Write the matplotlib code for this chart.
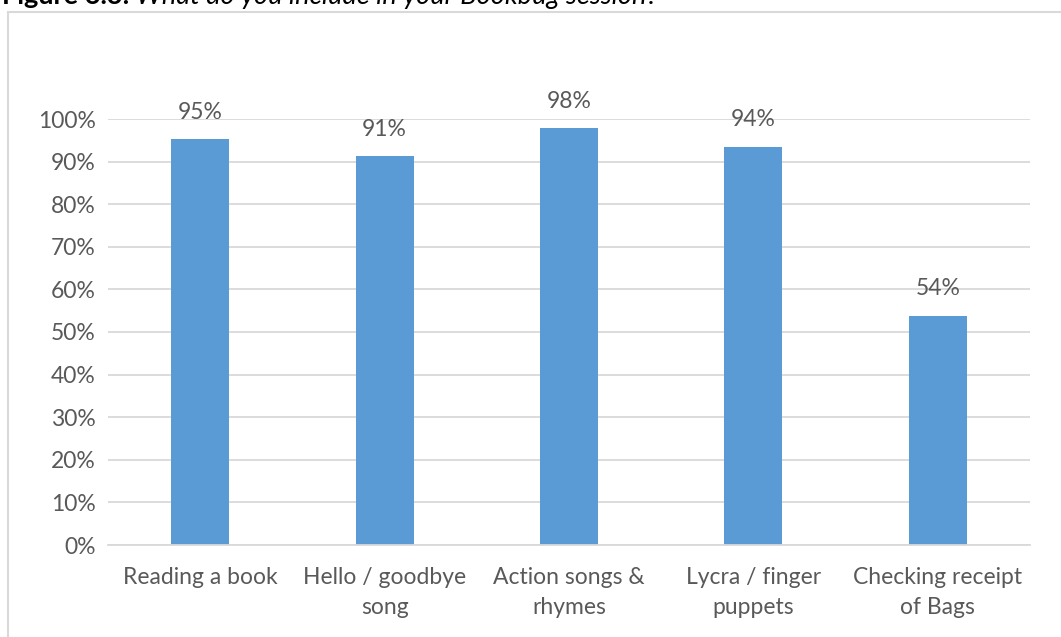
import matplotlib.pyplot as plt
from matplotlib.patches import Rectangle
from matplotlib.transforms import offset_copy

# data
categories = ['Reading a book', 'Hello / goodbye\nsong', 'Action songs &\nrhymes',
              'Lycra / finger\npuppets', 'Checking receipt\nof Bags']
values = [0.952, 0.912, 0.978, 0.934, 0.538]
labels = ['95%', '91%', '98%', '94%', '54%']
yticks = [0, 0.1, 0.2, 0.3, 0.4, 0.5, 0.6, 0.7, 0.8, 0.9, 1.0]

plt.rcParams['font.family'] = ['Lato', 'DejaVu Sans']
txt = '#595959'
fs = 16.5

fig = plt.figure(figsize=(10.61, 6.37), dpi=100)

# chart frame (runs off the right and bottom edges)
fig.patches.append(Rectangle((8/1061, -0.05), 1.1, 1 - 12/637 + 0.05,
                             transform=fig.transFigure, fill=False,
                             edgecolor='#d9d9d9', linewidth=1.5))

# caption cut off at the top
cap_y = 1 - 4/637
cap = fig.text(0.002, cap_y, 'Figure 6.3:', fontsize=19.5, fontweight='bold',
               va='baseline', ha='left', color='#000000')
fig.canvas.draw()
bb = cap.get_window_extent()
fig.text(bb.x1 / 1061 + 0.006, cap_y, 'What do you include in your Bookbug session?',
         fontsize=19.5, style='italic', va='baseline', ha='left', color='#000000')

ax = fig.add_axes([108/1061, 1 - 545/637, 922/1061, (545 - 119)/637])
x = range(len(categories))
ax.bar(x, values, width=0.315, color='#5b9bd5', zorder=2)
lab_tr = offset_copy(ax.transData, fig=fig, x=0, y=12, units='points')
for xi, v, lab in zip(x, values, labels):
    ax.text(xi, v, lab, ha='center', va='bottom', fontsize=fs, color=txt,
            transform=lab_tr)

ax.set_xlim(-0.5, len(categories) - 0.5)
ax.set_ylim(0, 1.0)
ax.set_yticks(yticks)
ax.set_yticklabels(['%d%%' % round(t * 100) for t in yticks])
ax.set_xticks(list(x))
ax.set_xticklabels(categories, linespacing=1.5)
ax.tick_params(axis='both', length=0, labelsize=fs, colors=txt)
ax.tick_params(axis='x', pad=16)
ax.tick_params(axis='y', pad=9)
ax.grid(axis='y', color='#d9d9d9', linewidth=1.3, zorder=0)
for s in ['top', 'right', 'left']:
    ax.spines[s].set_visible(False)
ax.spines['bottom'].set_color('#d9d9d9')
ax.spines['bottom'].set_linewidth(1.3)

fig.savefig('out.png', dpi=100)
